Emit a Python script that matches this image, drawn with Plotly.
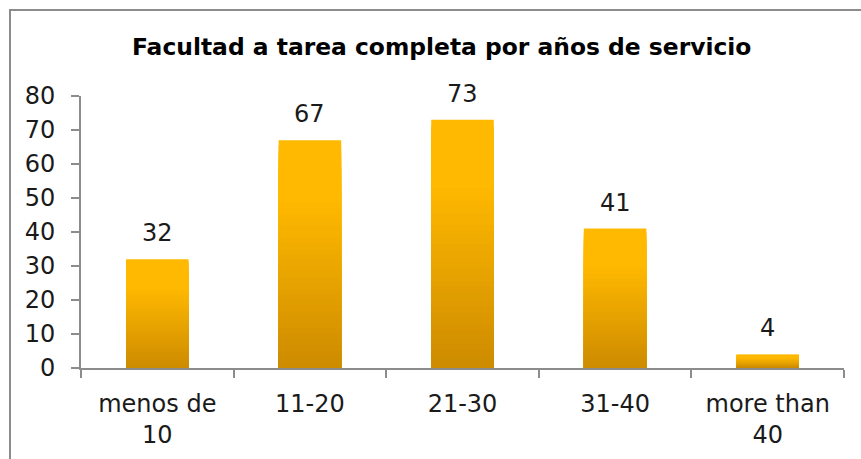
import plotly.graph_objects as go

categories = ["menos de<br>10", "11-20", "21-30", "31-40", "more than<br>40"]
values = [32, 67, 73, 41, 4]
y_ticks = [0, 10, 20, 30, 40, 50, 60, 70, 80]
title_text = "Facultad a tarea completa por años de servicio"

W, H = 861, 459
L, R, T, B = 81, 17, 96, 91
FONT = "DejaVu Sans"
GRAY = "#8c8c8c"
TXT = "#1a1a1a"

top_rgb = (255, 185, 0)
bot_rgb = (204, 138, 0)

def band_color(frac):
    # frac: relative height within bar (1 = top, 0 = bottom)
    t = min(frac / 0.75, 1.0)
    c = [round(b + (a - b) * t) for a, b in zip(top_rgb, bot_rgb)]
    return f"rgb({c[0]},{c[1]},{c[2]})"

fig = go.Figure()
N = 40
for i in range(N):
    frac = 1 - i / N
    fig.add_trace(go.Bar(
        x=categories,
        y=[v * frac for v in values],
        marker=dict(color=band_color(frac), line=dict(width=0)),
        width=0.41,
        hoverinfo="skip" if i else None,
        showlegend=False,
    ))

for c, v in zip(categories, values):
    fig.add_annotation(x=c, y=v, text=str(v), showarrow=False,
                       yanchor="bottom", yshift=10,
                       font=dict(family=FONT, size=24, color=TXT))

pw, ph = W - L - R, H - T - B
fig.add_annotation(xref="paper", yref="paper",
                   x=(441 - L) / pw, y=(H - B - 47) / ph,
                   text="<b>" + title_text + "</b>", showarrow=False,
                   xanchor="center", yanchor="middle",
                   font=dict(family=FONT, size=23.4, color="#000000"))

fig.add_shape(type="rect", xref="paper", yref="paper",
              x0=(10 - L) / pw, x1=1.2, y0=-1.0, y1=(H - B - 10) / ph,
              line=dict(color=GRAY, width=2), fillcolor="rgba(0,0,0,0)")

fig.update_layout(
    width=W, height=H,
    margin=dict(l=L, r=R, t=T, b=B, pad=0),
    barmode="overlay",
    paper_bgcolor="white", plot_bgcolor="white",
    font=dict(family=FONT, size=24, color=TXT),
    showlegend=False,
)
fig.update_xaxes(
    automargin=False,
    showline=True, linecolor=GRAY, linewidth=2,
    ticks="outside", tickson="boundaries", ticklen=8, tickcolor=GRAY, tickwidth=2,
    showgrid=False, tickfont=dict(family=FONT, size=24, color=TXT),
    ticklabelstandoff=13,
)
fig.update_yaxes(
    automargin=False,
    range=[0, 80], tickvals=y_ticks,
    showline=True, linecolor=GRAY, linewidth=2,
    ticks="outside", ticklen=8, tickcolor=GRAY, tickwidth=2,
    showgrid=False, zeroline=False,
    tickfont=dict(family=FONT, size=24, color=TXT),
    ticklabelstandoff=11,
)

fig.write_html(
    "out.html",
    config={"displayModeBar": False},
    post_script="document.body.style.margin='0';document.body.style.overflow='hidden';",
)
